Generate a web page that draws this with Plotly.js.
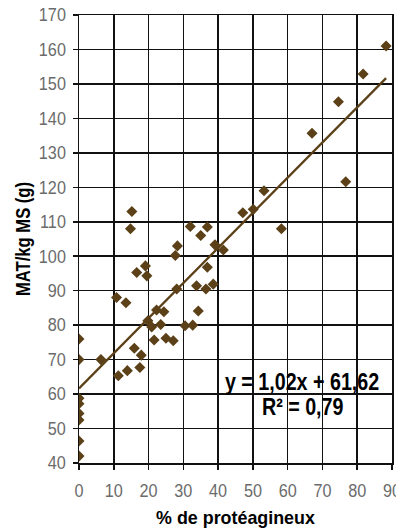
<!DOCTYPE html>
<html>
<head>
<meta charset="utf-8">
<script src="https://cdn.plot.ly/plotly-3.0.1.min.js"></script>
<style>html,body{margin:0;padding:0;background:#fff;}#chart{width:396px;height:528px;}</style>
</head>
<body>
<div id="chart"></div>
<script>
// % de protéagineux
const proteaginPct = [0, 0, 0, 0, 0, 0, 0, 0,
  6.3, 10.8, 13.5, 11.3, 13.9, 14.8, 15.2, 15.9, 16.6, 17.5, 17.9,
  19.1, 19.5, 19.8, 20.9, 21.6, 22.3, 23.5, 24.4, 25.0, 27.1,
  27.7, 28.3, 28.1, 30.5, 32.0, 32.7, 33.8, 34.3, 35.0, 36.5,
  36.9, 36.9, 38.6, 39.1, 41.5, 47.1, 50.1, 53.2, 58.2,
  67.0, 74.6, 76.7, 81.7, 88.3];
// MAT/kg MS (g)
const matKgMs = [76, 70, 58.8, 57.2, 54.4, 52.5, 46.4, 42,
  70, 88, 86.5, 65.3, 66.8, 108, 113, 73.3, 95.3, 67.7, 71.3,
  97.2, 94.3, 81.3, 79.5, 75.7, 84.4, 80.2, 83.9, 76.2, 75.5,
  100.2, 103, 90.5, 79.8, 108.6, 80, 91.4, 84.1, 106, 90.5,
  96.8, 108.5, 91.9, 103.3, 101.8, 112.6, 113.6, 119, 108,
  135.7, 144.8, 121.6, 152.9, 161];
// Linear fit y = 1,02x + 61,62
const slope = 1.02;
const intercept = 61.62;
const equationText = "y = 1,02x + 61,62";
const r2Text = "R² = 0,79";

const xMin = Math.min(...proteaginPct), xMax = Math.max(...proteaginPct);
const fitX = [xMin, xMax];
const fitY = fitX.map(v => slope * v + intercept);

const brown = '#5b4018';
const fam = 'Liberation Sans, Arial, sans-serif';

const data = [
  {x: fitX, y: fitY, type: 'scatter', mode: 'lines',
   line: {color: brown, width: 2.3}, hoverinfo: 'skip', showlegend: false},
  {x: proteaginPct, y: matKgMs, type: 'scatter', mode: 'markers',
   marker: {symbol: 'diamond', size: 8.5, color: brown}, showlegend: false}
];

const axisCommon = {
  showgrid: true, gridcolor: '#111', gridwidth: 1.5,
  showline: true, linecolor: '#111', linewidth: 1.5, mirror: true,
  zeroline: false, ticks: 'outside', ticklen: 5, tickwidth: 1.5, tickcolor: '#111',
  ticklabeloverflow: 'allow',
  tickfont: {family: fam, size: 18, color: '#6b6b6b'}
};

const layout = {
  width: 396, height: 528,
  margin: {l: 79, r: 4, t: 15, b: 65},
  paper_bgcolor: '#fff', plot_bgcolor: '#fff',
  xaxis: Object.assign({}, axisCommon, {
    range: [0, 90], dtick: 10, tick0: 0, ticklabelstandoff: 6,
    title: {text: '% de protéagineux', standoff: 10,
      font: {family: fam, size: 19, color: '#000', weight: 'bold'}}
  }),
  yaxis: Object.assign({}, axisCommon, {
    range: [40, 170], dtick: 10, tick0: 40, ticklabelstandoff: 3,
    title: {text: 'MAT/kg MS (g)', standoff: 0,
      font: {family: fam, size: 20, color: '#000', weight: 'bold'}}
  }),
  annotations: [
    {x: 64.1, y: 63.6, xref: 'x', yref: 'y', text: equationText, showarrow: false,
     font: {family: fam, size: 24, color: '#000', weight: 'bold'}},
    {x: 64.4, y: 56.3, xref: 'x', yref: 'y', text: r2Text, showarrow: false,
     font: {family: fam, size: 24, color: '#000', weight: 'bold'}}
  ]
};

// Condense text horizontally (the reference uses a condensed typeface)
function condense(selector, factor) {
  document.querySelectorAll(selector).forEach(t => {
    if (!t.textContent.trim()) return;
    const w = t.getComputedTextLength();
    t.setAttribute('textLength', (w * factor).toFixed(2));
    t.setAttribute('lengthAdjust', 'spacingAndGlyphs');
  });
}

Plotly.newPlot('chart', data, layout, {displayModeBar: false, staticPlot: true}).then(() => {
  condense('#chart .xtick text, #chart .ytick text', 0.9);
  condense('#chart text.xtitle', 0.94);
  condense('#chart text.ytitle', 0.83);
  condense('#chart text.annotation-text', 0.82);
});
</script>
</body>
</html>
